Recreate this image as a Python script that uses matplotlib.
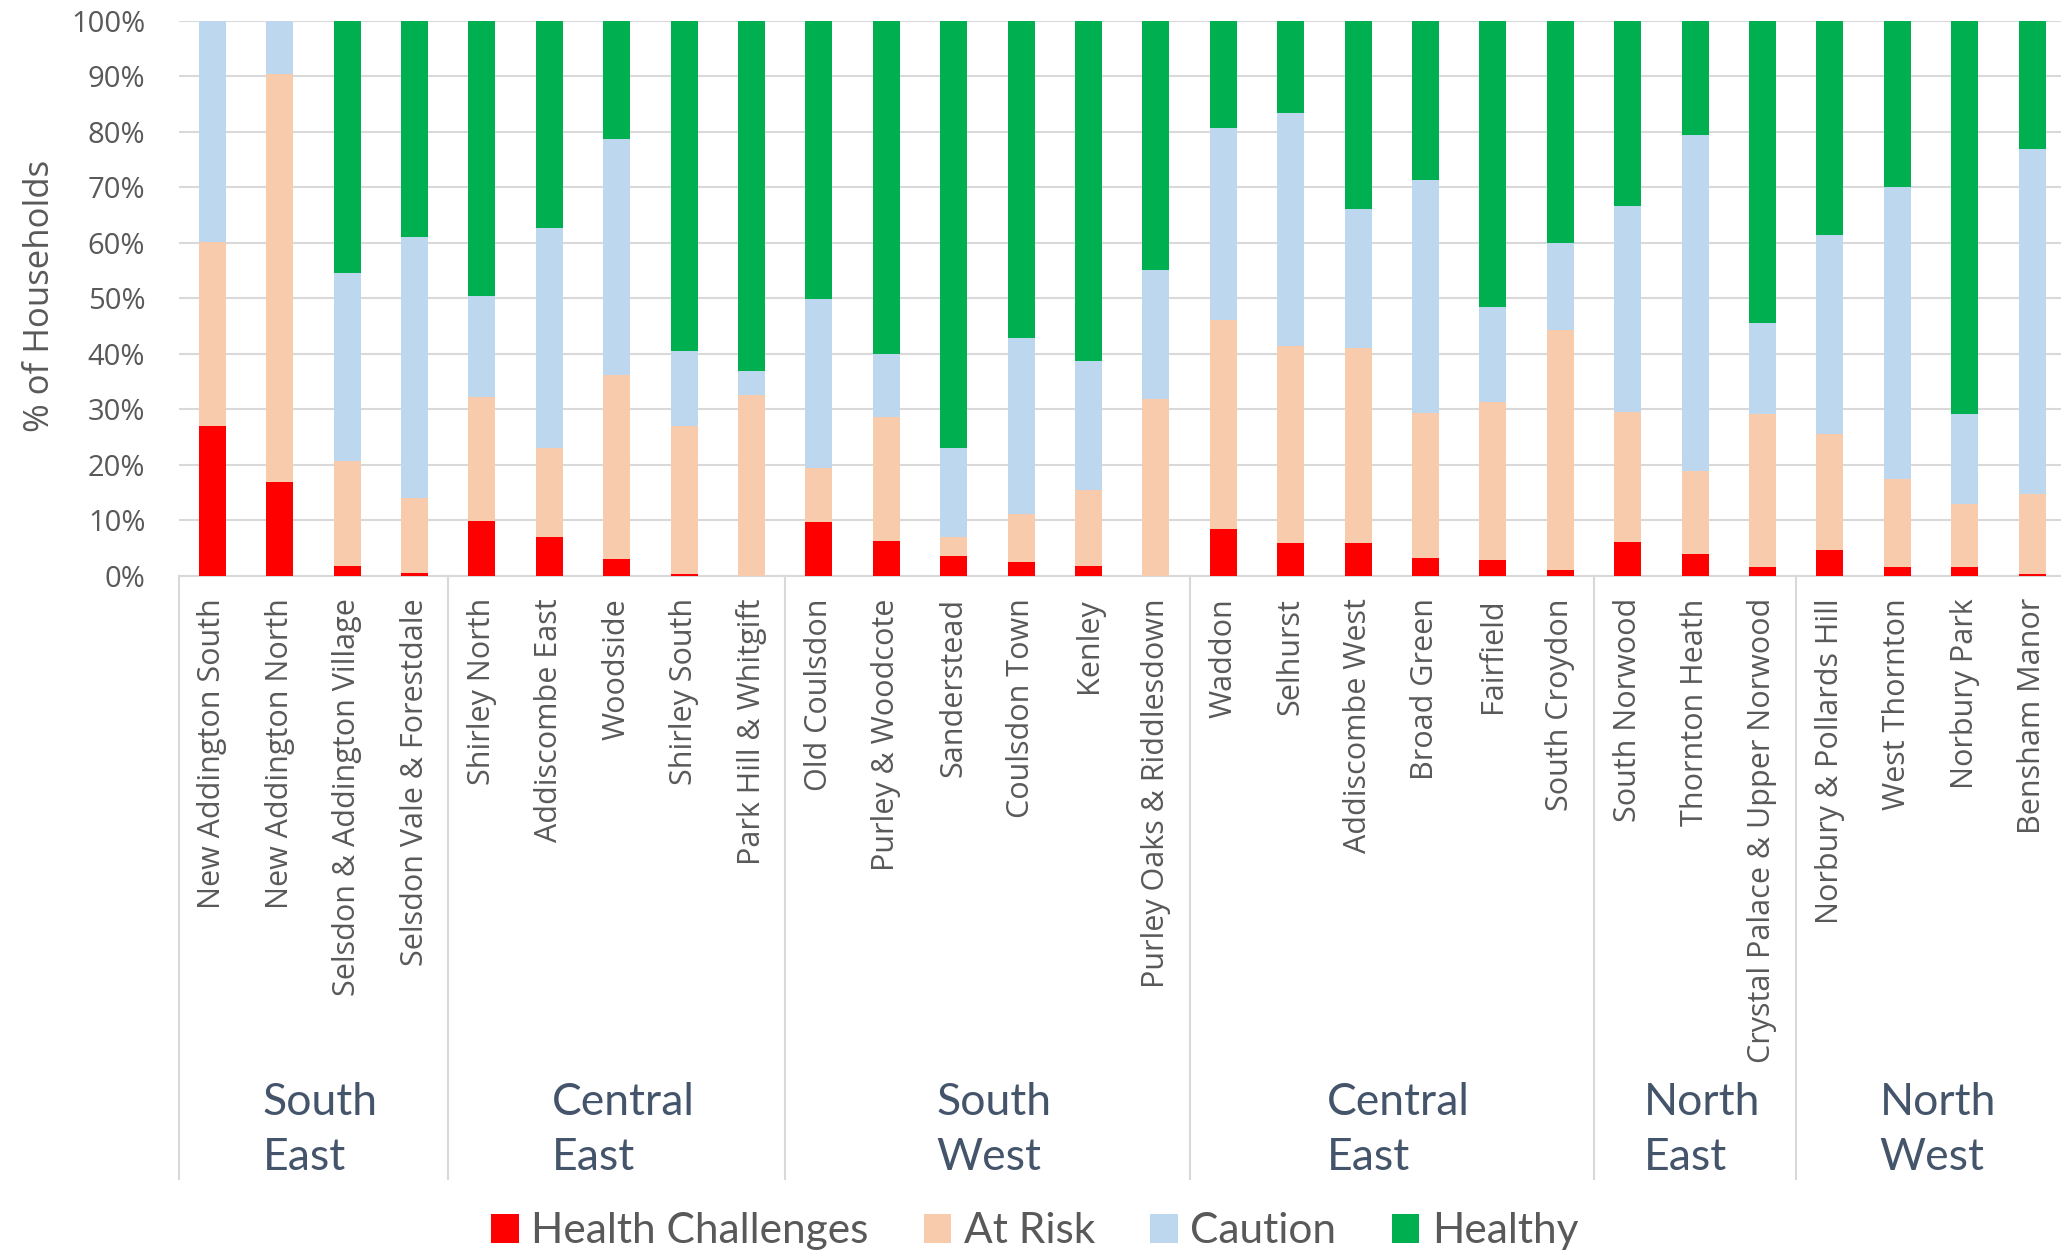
import matplotlib.pyplot as plt
import numpy as np
from matplotlib.patches import Patch
from matplotlib.transforms import blended_transform_factory

wards = ['New Addington South', 'New Addington North', 'Selsdon & Addington Village',
         'Selsdon Vale & Forestdale', 'Shirley North', 'Addiscombe East', 'Woodside',
         'Shirley South', 'Park Hill & Whitgift', 'Old Coulsdon', 'Purley & Woodcote',
         'Sanderstead', 'Coulsdon Town', 'Kenley', 'Purley Oaks & Riddlesdown', 'Waddon',
         'Selhurst', 'Addiscombe West', 'Broad Green', 'Fairfield', 'South Croydon',
         'South Norwood', 'Thornton Heath', 'Crystal Palace & Upper Norwood',
         'Norbury & Pollards Hill', 'West Thornton', 'Norbury Park', 'Bensham Manor']
areas = ['South\nEast', 'Central\nEast', 'South\nWest', 'Central\nEast', 'North\nEast', 'North\nWest']
area_sizes = [4, 5, 6, 6, 3, 4]

# % of households in each group, per ward
health_challenges = [27.1, 17.0, 1.8, 0.5, 9.9, 7.1, 3.0, 0.4, 0.0, 9.7, 6.3, 3.6, 2.6, 1.8,
                     0.0, 8.4, 5.9, 5.9, 3.3, 2.8, 1.0, 6.1, 3.9, 1.6, 4.6, 1.6, 1.6, 0.4]
at_risk = [33.1, 73.4, 19.0, 13.5, 22.3, 16.0, 33.2, 26.7, 32.6, 9.8, 22.3, 3.5, 8.5, 13.6,
           31.9, 37.7, 35.6, 35.1, 26.0, 28.6, 43.4, 23.5, 15.1, 27.5, 21.0, 15.9, 11.3, 14.3]
caution = [39.8, 9.6, 33.7, 47.0, 18.2, 39.6, 42.5, 13.4, 4.3, 30.4, 11.4, 16.0, 31.7, 23.4,
           23.2, 34.6, 42.0, 25.1, 42.1, 17.0, 15.6, 37.0, 60.5, 16.5, 35.9, 52.6, 16.2, 62.2]
healthy = [0.0, 0.0, 45.5, 39.0, 49.6, 37.3, 21.3, 59.5, 63.1, 50.1, 60.0, 76.9, 57.2, 61.2,
           44.9, 19.3, 16.5, 33.9, 28.6, 51.6, 40.0, 33.4, 20.5, 54.4, 38.5, 29.9, 70.9, 23.1]

series = [('Health Challenges', health_challenges, '#FF0000'),
          ('At Risk', at_risk, '#F8CBAD'),
          ('Caution', caution, '#BDD7EE'),
          ('Healthy', healthy, '#00B050')]

grey = '#595959'
line_grey = '#D9D9D9'

fig = plt.figure(figsize=(20.61, 12.54), dpi=100)
ax = fig.add_axes([0.0867, 0.5407, 0.9156, 0.4426])

x = np.arange(len(wards))
bottom = np.zeros(len(wards))
for name, vals, color in series:
    vals = np.array(vals) / 100
    ax.bar(x, vals, width=0.4, bottom=bottom, color=color, zorder=3)
    bottom += vals

ax.set_xlim(-0.5, len(wards) - 0.5)
ax.set_ylim(0, 1)
ax.set_yticks(np.arange(0, 1.01, 0.1))
ax.set_yticklabels([f'{v}%' for v in range(0, 101, 10)], fontsize=21, color=grey, family='Open Sans')
ax.set_xticks(x)
ax.set_xticklabels(wards, rotation=90, fontsize=22, color=grey, family='Open Sans', va='top')
ax.tick_params(axis='both', length=0)
ax.tick_params(axis='x', pad=16)
ax.tick_params(axis='y', pad=24)
ax.grid(axis='y', color=line_grey, lw=1.5, zorder=0)
for side in ['top', 'right', 'left']:
    ax.spines[side].set_visible(False)
ax.spines['bottom'].set_color(line_grey)
ax.spines['bottom'].set_linewidth(1.5)

ax.set_ylabel('% of Households', fontsize=25, color=grey, family='Open Sans')
ax.yaxis.set_label_coords(-0.0645, 0.504)

# area brackets under the ward names
trans = blended_transform_factory(ax.transData, ax.transAxes)
edges = np.concatenate([[0], np.cumsum(area_sizes)]) - 0.5
for e in edges[:-1]:
    ax.plot([e, e], [0, -1.0865], transform=trans, color=line_grey, lw=1.5, clip_on=False)
for i, area in enumerate(areas):
    mid = (edges[i] + edges[i + 1]) / 2
    ax.text(mid + 0.1, -0.998, area, transform=trans, ha='center', va='center', multialignment='left',
            fontsize=32, color='#44546A', family='Lato', linespacing=1.42)

handles = [Patch(facecolor=c, label=n) for n, _, c in series]
fig.legend(handles=handles, loc='center', bbox_to_anchor=(0.502, 0.018), ncol=4, frameon=False,
           prop={'family': 'Lato', 'size': 30.5}, labelcolor=grey, handlelength=0.65, handleheight=0.65,
           handletextpad=0.3, columnspacing=1.3, borderpad=0)

fig.savefig('out.png', dpi=100)
